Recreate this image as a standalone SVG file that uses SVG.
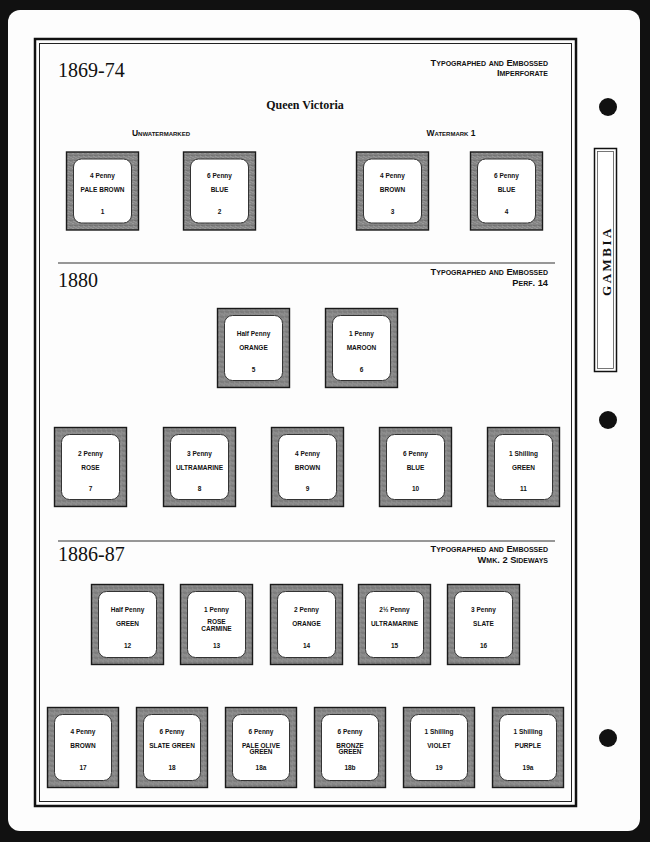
<svg xmlns="http://www.w3.org/2000/svg" width="650" height="842" viewBox="0 0 650 842">
<style>
.year{font-family:"Liberation Serif","Times New Roman",serif;font-size:20px;fill:#111}
.hdr{font-family:"Liberation Sans",Arial,sans-serif;font-size:9.3px;font-weight:bold;font-variant:small-caps;fill:#111;text-anchor:end}
.sub{font-family:"Liberation Sans",Arial,sans-serif;font-size:8.5px;font-weight:bold;font-variant:small-caps;fill:#111;text-anchor:middle}
.title{font-family:"Liberation Serif","Times New Roman",serif;font-size:12px;font-weight:bold;fill:#111;text-anchor:middle}
.tab{font-family:"Liberation Serif","Times New Roman",serif;font-size:13px;font-weight:bold;fill:#111;text-anchor:middle;letter-spacing:2.5px}
.st{font-family:"Liberation Sans",Arial,sans-serif;font-size:6.5px;font-weight:bold;fill:#111;text-anchor:middle}
.fr{fill:url(#tex);stroke:#1a1a1a;stroke-width:1.4}
.in{fill:#fff;stroke:#333;stroke-width:1}
.div{stroke:#333;stroke-width:1.2}
</style>
<defs>
<pattern id="tex" width="5" height="5" patternUnits="userSpaceOnUse">
<rect width="5" height="5" fill="#858585"/>
<rect x="1" y="1" width="1" height="1" fill="#aaa"/>
<rect x="3" y="3" width="1" height="1" fill="#606060"/>
<rect x="4" y="0" width="1" height="1" fill="#a0a0a0"/>
<rect x="0" y="3" width="1" height="1" fill="#6a6a6a"/>
<rect x="2" y="4" width="1" height="1" fill="#a5a5a5"/>
</pattern>
</defs>
<rect width="650" height="842" fill="#111"/>
<rect x="8" y="10" width="632" height="821" rx="12" fill="#fdfdfd"/>
<!-- frame -->
<rect x="35" y="39" width="541" height="767" fill="none" stroke="#111" stroke-width="2.5"/>
<rect x="39.5" y="43.5" width="532" height="758" fill="none" stroke="#222" stroke-width="1"/>
<!-- holes -->
<circle cx="608" cy="107" r="9" fill="#111"/>
<circle cx="608" cy="420" r="9" fill="#111"/>
<circle cx="608" cy="738" r="9" fill="#111"/>
<!-- tab -->
<g id="tab">
<rect x="594.5" y="148.5" width="22" height="223" fill="#fff" stroke="#111" stroke-width="1.5"/>
<rect x="597.5" y="151.5" width="16" height="217" fill="none" stroke="#555" stroke-width="0.8"/>
<text class="tab" transform="translate(610.5,261) rotate(-90)">GAMBIA</text>
</g>
<!-- section 1 -->
<g id="sec1">
<text class="year" x="58" y="77">1869-74</text>
<text class="hdr" x="548" y="66">Typographed and Embossed</text>
<text class="hdr" x="548" y="76">Imperforate</text>
<text class="title" x="305" y="109">Queen Victoria</text>
<text class="sub" x="161" y="136">Unwatermarked</text>
<text class="sub" x="451" y="136">Watermark 1</text>
</g>
<g id="sec2">
<line class="div" x1="58" y1="263" x2="555" y2="263"/>
<text class="year" x="58" y="287">1880</text>
<text class="hdr" x="548" y="275">Typographed and Embossed</text>
<text class="hdr" x="548" y="286">Perf. 14</text>
</g>
<g id="sec3">
<line class="div" x1="58" y1="541" x2="555" y2="541"/>
<text class="year" x="58" y="561">1886-87</text>
<text class="hdr" x="548" y="552">Typographed and Embossed</text>
<text class="hdr" x="548" y="563">Wmk. 2 Sideways</text>
</g>
<!-- stamps row 1 -->
<g id="s1" transform="translate(66.5,152)"><rect class="fr" width="72" height="78"/><rect class="in" x="7" y="7" width="58" height="64" rx="8"/><text class="st" x="36" y="26">4 Penny</text><text class="st" x="36" y="40">PALE BROWN</text><text class="st" x="36" y="62">1</text></g>
<g id="s2" transform="translate(183.5,152)"><rect class="fr" width="72" height="78"/><rect class="in" x="7" y="7" width="58" height="64" rx="8"/><text class="st" x="36" y="26">6 Penny</text><text class="st" x="36" y="40">BLUE</text><text class="st" x="36" y="62">2</text></g>
<g id="s3" transform="translate(356.5,152)"><rect class="fr" width="72" height="78"/><rect class="in" x="7" y="7" width="58" height="64" rx="8"/><text class="st" x="36" y="26">4 Penny</text><text class="st" x="36" y="40">BROWN</text><text class="st" x="36" y="62">3</text></g>
<g id="s4" transform="translate(470.5,152)"><rect class="fr" width="72" height="78"/><rect class="in" x="7" y="7" width="58" height="64" rx="8"/><text class="st" x="36" y="26">6 Penny</text><text class="st" x="36" y="40">BLUE</text><text class="st" x="36" y="62">4</text></g>
<!-- row 2a -->
<g id="s5" transform="translate(217.5,308.5)"><rect class="fr" width="72" height="79"/><rect class="in" x="7" y="7" width="58" height="65" rx="8"/><text class="st" x="36" y="27">Half Penny</text><text class="st" x="36" y="41">ORANGE</text><text class="st" x="36" y="63">5</text></g>
<g id="s6" transform="translate(325.5,308.5)"><rect class="fr" width="72" height="79"/><rect class="in" x="7" y="7" width="58" height="65" rx="8"/><text class="st" x="36" y="27">1 Penny</text><text class="st" x="36" y="41">MAROON</text><text class="st" x="36" y="63">6</text></g>
<!-- row 2b -->
<g id="s7" transform="translate(54.5,427.5)"><rect class="fr" width="72" height="79"/><rect class="in" x="7" y="7" width="58" height="65" rx="8"/><text class="st" x="36" y="28">2 Penny</text><text class="st" x="36" y="42">ROSE</text><text class="st" x="36" y="63">7</text></g>
<g id="s8" transform="translate(163.5,427.5)"><rect class="fr" width="72" height="79"/><rect class="in" x="7" y="7" width="58" height="65" rx="8"/><text class="st" x="36" y="28">3 Penny</text><text class="st" x="36" y="42">ULTRAMARINE</text><text class="st" x="36" y="63">8</text></g>
<g id="s9" transform="translate(271.5,427.5)"><rect class="fr" width="72" height="79"/><rect class="in" x="7" y="7" width="58" height="65" rx="8"/><text class="st" x="36" y="28">4 Penny</text><text class="st" x="36" y="42">BROWN</text><text class="st" x="36" y="63">9</text></g>
<g id="s10" transform="translate(379.5,427.5)"><rect class="fr" width="72" height="79"/><rect class="in" x="7" y="7" width="58" height="65" rx="8"/><text class="st" x="36" y="28">6 Penny</text><text class="st" x="36" y="42">BLUE</text><text class="st" x="36" y="63">10</text></g>
<g id="s11" transform="translate(487.5,427.5)"><rect class="fr" width="72" height="79"/><rect class="in" x="7" y="7" width="58" height="65" rx="8"/><text class="st" x="36" y="28">1 Shilling</text><text class="st" x="36" y="42">GREEN</text><text class="st" x="36" y="63">11</text></g>
<!-- row 3a -->
<g id="s12" transform="translate(91.5,584.5)"><rect class="fr" width="72" height="80"/><rect class="in" x="7" y="7" width="58" height="66" rx="8"/><text class="st" x="36" y="27">Half Penny</text><text class="st" x="36" y="41">GREEN</text><text class="st" x="36" y="63">12</text></g>
<g id="s13" transform="translate(180.5,584.5)"><rect class="fr" width="72" height="80"/><rect class="in" x="7" y="7" width="58" height="66" rx="8"/><text class="st" x="36" y="27">1 Penny</text><text class="st" x="36" y="39.5">ROSE</text><text class="st" x="36" y="46">CARMINE</text><text class="st" x="36" y="63">13</text></g>
<g id="s14" transform="translate(270.5,584.5)"><rect class="fr" width="72" height="80"/><rect class="in" x="7" y="7" width="58" height="66" rx="8"/><text class="st" x="36" y="27">2 Penny</text><text class="st" x="36" y="41">ORANGE</text><text class="st" x="36" y="63">14</text></g>
<g id="s15" transform="translate(358.5,584.5)"><rect class="fr" width="72" height="80"/><rect class="in" x="7" y="7" width="58" height="66" rx="8"/><text class="st" x="36" y="27">2½ Penny</text><text class="st" x="36" y="41">ULTRAMARINE</text><text class="st" x="36" y="63">15</text></g>
<g id="s16" transform="translate(447.5,584.5)"><rect class="fr" width="72" height="80"/><rect class="in" x="7" y="7" width="58" height="66" rx="8"/><text class="st" x="36" y="27">3 Penny</text><text class="st" x="36" y="41">SLATE</text><text class="st" x="36" y="63">16</text></g>
<!-- row 3b -->
<g id="s17" transform="translate(47.5,707.5)"><rect class="fr" width="71" height="80"/><rect class="in" x="7" y="7" width="57" height="66" rx="8"/><text class="st" x="35.5" y="26">4 Penny</text><text class="st" x="35.5" y="40">BROWN</text><text class="st" x="35.5" y="62">17</text></g>
<g id="s18" transform="translate(136.5,707.5)"><rect class="fr" width="71" height="80"/><rect class="in" x="7" y="7" width="57" height="66" rx="8"/><text class="st" x="35.5" y="26">6 Penny</text><text class="st" x="35.5" y="40">SLATE GREEN</text><text class="st" x="35.5" y="62">18</text></g>
<g id="s18a" transform="translate(225.5,707.5)"><rect class="fr" width="71" height="80"/><rect class="in" x="7" y="7" width="57" height="66" rx="8"/><text class="st" x="35.5" y="26">6 Penny</text><text class="st" x="35.5" y="40">PALE OLIVE</text><text class="st" x="35.5" y="46.5">GREEN</text><text class="st" x="35.5" y="62">18a</text></g>
<g id="s18b" transform="translate(314.5,707.5)"><rect class="fr" width="71" height="80"/><rect class="in" x="7" y="7" width="57" height="66" rx="8"/><text class="st" x="35.5" y="26">6 Penny</text><text class="st" x="35.5" y="40">BRONZE</text><text class="st" x="35.5" y="46.5">GREEN</text><text class="st" x="35.5" y="62">18b</text></g>
<g id="s19" transform="translate(403.5,707.5)"><rect class="fr" width="71" height="80"/><rect class="in" x="7" y="7" width="57" height="66" rx="8"/><text class="st" x="35.5" y="26">1 Shilling</text><text class="st" x="35.5" y="40">VIOLET</text><text class="st" x="35.5" y="62">19</text></g>
<g id="s19a" transform="translate(492.5,707.5)"><rect class="fr" width="71" height="80"/><rect class="in" x="7" y="7" width="57" height="66" rx="8"/><text class="st" x="35.5" y="26">1 Shilling</text><text class="st" x="35.5" y="40">PURPLE</text><text class="st" x="35.5" y="62">19a</text></g>
</svg>
